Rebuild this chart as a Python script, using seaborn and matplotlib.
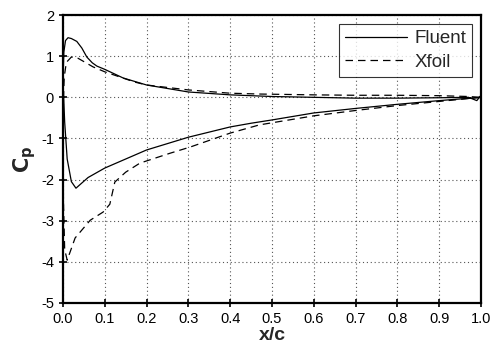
import matplotlib
matplotlib.use("Agg")
import matplotlib.pyplot as plt
import seaborn as sns
import pandas as pd

# Fluent: path from trailing edge along lower surface to leading edge, then upper surface back to TE
fluent_x = [1.0, 0.9, 0.8, 0.7, 0.6, 0.5, 0.45, 0.4, 0.3, 0.2, 0.15, 0.1, 0.06, 0.031,
            0.02, 0.01, 0.004, 0.0, 0.002, 0.006, 0.012, 0.02, 0.033, 0.045, 0.057, 0.07,
            0.081, 0.1, 0.144, 0.2, 0.3, 0.4, 0.5, 0.6, 0.7, 0.8, 0.9, 0.97, 0.99, 1.0]
fluent_cp = [0.0, -0.08, -0.17, -0.27, -0.38, -0.55, -0.63, -0.72, -0.97, -1.28, -1.5, -1.72, -1.95, -2.21,
             -2.05, -1.5, -0.6, 0.4, 1.1, 1.38, 1.45, 1.43, 1.36, 1.2, 0.98, 0.84,
             0.76, 0.68, 0.47, 0.3, 0.13, 0.06, 0.02, 0.0, -0.02, -0.02, -0.01, 0.0, -0.08, 0.05]

xfoil_x = [1.0, 0.9, 0.8, 0.7, 0.6, 0.47, 0.4, 0.304, 0.256, 0.184, 0.15, 0.124, 0.112, 0.096,
           0.065, 0.029, 0.01, 0.004, 0.001, 0.0, 0.003, 0.008, 0.02, 0.036, 0.072, 0.1,
           0.172, 0.2, 0.3, 0.4, 0.47, 0.6, 0.7, 0.8, 0.9, 0.97, 1.0]
xfoil_cp = [0.0, -0.1, -0.2, -0.32, -0.45, -0.67, -0.87, -1.21, -1.36, -1.6, -1.82, -2.06, -2.6, -2.79,
            -2.99, -3.42, -3.96, -3.7, -2.5, -0.3, 0.5, 0.85, 0.98, 0.95, 0.74, 0.62,
            0.37, 0.3, 0.18, 0.1, 0.08, 0.06, 0.05, 0.05, 0.04, 0.02, 0.0]

x_ticks = [0.0, 0.1, 0.2, 0.3, 0.4, 0.5, 0.6, 0.7, 0.8, 0.9, 1.0]
y_ticks = [-5, -4, -3, -2, -1, 0, 1, 2]

sns.set_style("ticks")
plt.rcParams['font.family'] = ['Liberation Sans', 'DejaVu Sans']

df = pd.concat([
    pd.DataFrame({"x": fluent_x, "cp": fluent_cp, "src": "Fluent"}),
    pd.DataFrame({"x": xfoil_x, "cp": xfoil_cp, "src": "Xfoil"}),
])

fig = plt.figure(figsize=(5.0, 3.51), dpi=100)
ax = fig.add_axes([0.126, 0.137, 0.836, 0.820])

sns.lineplot(data=df, x="x", y="cp", style="src", sort=False, estimator=None, units="src",
             color="black", linewidth=0.9, ax=ax,
             dashes={"Fluent": "", "Xfoil": (6, 4)})

ax.set_xlim(0, 1.0)
ax.set_ylim(-5, 2)
ax.set_xticks(x_ticks)
ax.set_xticklabels([f"{t:.1f}" for t in x_ticks])
ax.set_yticks(y_ticks)
ax.set_yticklabels([f"{t}" for t in y_ticks])
ax.grid(True, linestyle=(0, (1, 2.5)), color="#555555", linewidth=0.8)
for s in ax.spines.values():
    s.set_visible(True)
    s.set_linewidth(1.6)
    s.set_color("black")
ax.tick_params(direction="inout", length=6, width=1.2, labelsize=10.5, colors="black")
ax.set_xlabel("x/c", fontsize=14, fontweight="bold", labelpad=1)
ax.set_ylabel(r"$\mathbf{C}_{\mathbf{p}}$", fontsize=15, labelpad=2)

leg = ax.legend(loc="upper right", fontsize=13.5, frameon=True, fancybox=False,
                edgecolor="black", handlelength=3.3, borderaxespad=0.5,
                labelspacing=0.35, handletextpad=0.4, borderpad=0.3)
leg.get_frame().set_linewidth(0.8)

fig.savefig("out.png", dpi=100)
